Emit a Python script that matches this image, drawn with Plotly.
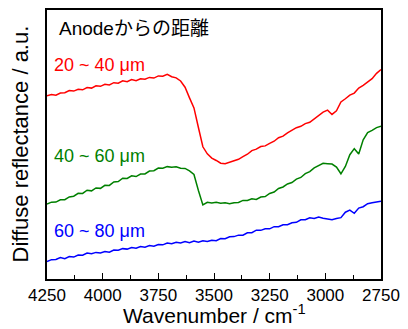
import plotly.graph_objects as go

# Wavenumber grid (cm^-1), 20 cm^-1 spacing, high to low
wavenumber = list(range(4250, 2749, -20))

# Diffuse reflectance spectra (arbitrary units, offset for display)
refl_20_40 = [
    184.5, 185.8, 185.2, 187.4, 187.6, 189.9, 189.3, 191.2, 190.6, 192.8,
    192.3, 194.6, 194.1, 196.2, 195.5, 197.8, 197.2, 199.6, 198.7, 200.9,
    199.8, 201.7, 201.3, 203.1, 202.4, 204.6, 204.2, 206.1, 203.8, 202.6,
    199.5, 193.2, 182.5, 172.4, 152.6, 133.2, 126.1, 121.8, 119.4, 116.7,
    116.2, 117.5, 118.8, 120.6, 123.2, 125.7, 129.4, 130.8, 133.5, 134.1,
    136.6, 138.8, 142.3, 143.9, 147.2, 149.6, 152.4, 153.8, 156.5, 157.9,
    161.3, 164.6, 168.2, 170.1, 165.8, 169.4, 178.3, 181.6, 185.2, 187.3,
    192.4, 195.1, 198.6, 201.8, 207.2, 211.0,
]
refl_40_60 = [
    75.6, 77.4, 77.5, 79.8, 79.9, 82.7, 83.4, 86.3, 86.2, 89.4,
    88.8, 91.7, 91.3, 94.4, 94.3, 97.8, 98.2, 101.6, 101.3, 103.9,
    103.2, 105.8, 105.9, 108.7, 109.1, 111.8, 111.6, 113.2, 112.6, 113.1,
    111.5, 111.4, 108.9, 105.3, 89.2, 74.6, 77.3, 76.6, 77.2, 76.4,
    76.7, 75.9, 76.8, 77.1, 79.2, 79.1, 80.8, 80.2, 82.6, 83.1,
    86.2, 87.6, 91.2, 92.7, 95.8, 97.2, 100.6, 102.3, 106.1, 108.2,
    112.0, 114.3, 116.5, 116.2, 115.8, 112.7, 106.0, 113.4, 125.2, 131.3,
    126.0, 140.2, 147.6, 149.8, 152.5, 153.8,
]
refl_60_80 = [
    17.6, 19.5, 19.6, 21.7, 20.5, 22.6, 22.1, 24.2, 24.0, 26.1,
    25.4, 26.8, 26.2, 27.7, 27.0, 29.2, 29.0, 30.6, 30.1, 31.7,
    31.0, 32.8, 32.1, 33.7, 33.0, 34.8, 34.4, 36.2, 35.6, 37.1,
    36.2, 37.7, 36.6, 38.2, 37.1, 38.6, 37.7, 39.1, 38.6, 40.7,
    40.5, 42.6, 42.7, 44.2, 44.1, 46.6, 46.7, 49.2, 49.0, 50.6,
    50.5, 52.7, 52.6, 54.7, 54.6, 56.7, 57.1, 59.6, 59.7, 61.6,
    61.0, 62.4, 61.2, 60.8, 59.7, 60.9, 61.8, 67.3, 69.4, 66.2,
    71.4, 72.8, 75.9, 76.8, 77.9, 78.4,
]

series = [
    ("20 ~ 40 \u03bcm", refl_20_40, "#ff0000", 216),
    ("40 ~ 60 \u03bcm", refl_40_60, "#008000", 124),
    ("60 ~ 80 \u03bcm", refl_60_80, "#0000ff", 48),
]

x_ticks = [4250, 4000, 3750, 3500, 3250, 3000, 2750]

FONT = "Liberation Sans, Arial, Noto Sans CJK JP, sans-serif"

fig = go.Figure()
annotations = []
for name, values, color, label_y in series:
    fig.add_trace(go.Scatter(
        x=wavenumber, y=values, mode="lines", name=name,
        line=dict(color=color, width=1.5),
    ))
    annotations.append(dict(
        text=name, xref="paper", yref="y", x=0.015, y=label_y,
        xanchor="left", yanchor="middle", showarrow=False,
        font=dict(family=FONT, size=18, color=color),
    ))

annotations.append(dict(
    text="Anode\u304b\u3089\u306e\u8ddd\u96e2", xref="paper", yref="y",
    x=0.03, y=252, xanchor="left", yanchor="middle", showarrow=False,
    font=dict(family=FONT, size=19, color="black"),
))
annotations.append(dict(
    text="Wavenumber / cm<sup>-1</sup>", xref="paper", yref="paper",
    x=0.5, y=0, yshift=-35, xanchor="center", yanchor="middle",
    showarrow=False, font=dict(family=FONT, size=21, color="black"),
))
annotations.append(dict(
    text="Diffuse reflectance / a.u.", xref="paper", yref="paper",
    x=0, xshift=-27, y=0.5, xanchor="center", yanchor="middle",
    textangle=-90, showarrow=False,
    font=dict(family=FONT, size=22, color="black"),
))

fig.update_layout(
    width=408, height=329,
    margin=dict(l=47, r=24, t=8, b=50),
    paper_bgcolor="white", plot_bgcolor="white",
    showlegend=False,
    annotations=annotations,
    xaxis=dict(
        range=[4250, 2750], tickvals=x_ticks,
        ticks="inside", ticklen=6, tickwidth=1, tickcolor="black",
        minor=dict(dtick=125, tick0=2750, ticks="inside", ticklen=4,
                   tickcolor="black", showgrid=False),
        showline=True, linecolor="black", linewidth=1.5, mirror=True,
        showgrid=False, zeroline=False,
        tickfont=dict(family=FONT, size=17, color="black"),
    ),
    yaxis=dict(
        range=[0, 271], showticklabels=False, ticks="",
        showline=True, linecolor="black", linewidth=1.5, mirror=True,
        showgrid=False, zeroline=False,
    ),
)

fig.write_html("out.html")
